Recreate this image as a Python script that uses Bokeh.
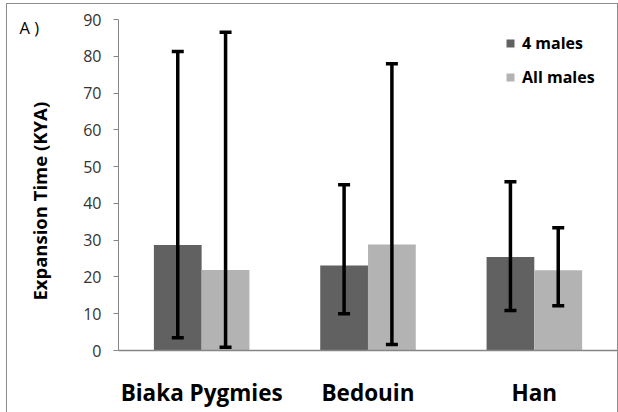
import math
from bokeh.plotting import figure
from bokeh.layouts import row
from bokeh.models import ColumnDataSource, Whisker, TeeHead, Legend, LegendItem, FixedTicker
from bokeh.core.properties import value
from bokeh.transform import dodge
from bokeh.embed import file_html
from bokeh.resources import INLINE

categories = ["Biaka Pygmies", "Bedouin", "Han"]
series = ["4 males", "All males"]
four_males = [28.7, 23.1, 25.4]
four_males_low = [3.5, 10.0, 10.9]
four_males_high = [81.3, 45.1, 45.9]
all_males = [21.9, 28.8, 21.8]
all_males_low = [0.9, 1.6, 12.2]
all_males_high = [86.5, 78.0, 33.4]
y_ticks = [0, 10, 20, 30, 40, 50, 60, 70, 80, 90]
panel_label = "A )"
y_title = "Expansion Time (KYA)"

FONT = "Open Sans"
DARK = "#616161"
LIGHT = "#b3b3b3"

src = ColumnDataSource(dict(cat=categories, a=four_males, alo=four_males_low, ahi=four_males_high,
                            b=all_males, blo=all_males_low, bhi=all_males_high))

# left strip holding the panel letter and the y title; its frame is aligned
# with the main plot frame (page pixels 19..350), so the y range uses page pixels
LW, LH = 59, 408
left = figure(width=LW, height=LH, x_range=(0, LW), y_range=(350.5, 19),
              output_backend="svg", toolbar_location=None,
              x_axis_location=None, y_axis_location=None,
              min_border=0, min_border_left=0, min_border_right=0,
              min_border_top=0, min_border_bottom=0)
left.outline_line_color = None
left.grid.visible = False
left.text(x=[12], y=[27], text=[panel_label], text_baseline="alphabetic",
          text_font=value(FONT), text_font_size="16.5px", text_color="#000000")
left.text(x=[32], y=[201], text=[y_title], angle=math.pi / 2,
          text_align="center", text_baseline="middle",
          text_font=value(FONT), text_font_style="bold", text_font_size="18.5px",
          text_color="#000000")

p = figure(x_range=categories, y_range=(0, 90), width=551, height=LH,
           output_backend="svg", toolbar_location=None,
           min_border_left=52, min_border_right=0, min_border_top=15, min_border_bottom=62)
p.outline_line_color = None
p.grid.visible = False
p.x_range.range_padding = 0

bw = 0.287
off = 0.1437
r1 = p.vbar(x=dodge("cat", -off, range=p.x_range), top="a", width=bw, source=src,
            fill_color=DARK, line_color=None)
r2 = p.vbar(x=dodge("cat", off, range=p.x_range), top="b", width=bw, source=src,
            fill_color=LIGHT, line_color=None)

for base, lo, hi in [(-off, "alo", "ahi"), (off, "blo", "bhi")]:
    w = Whisker(base=dodge("cat", base, range=p.x_range), lower=lo, upper=hi, source=src,
                line_color="black", line_width=3.5, level="overlay",
                upper_head=TeeHead(size=12, line_width=3.5, line_color="black"),
                lower_head=TeeHead(size=12, line_width=3.5, line_color="black"))
    p.add_layout(w)

legend = Legend(items=[LegendItem(label=series[0], renderers=[r1]),
                       LegendItem(label=series[1], renderers=[r2])],
                location=(387, 262), orientation="vertical")
legend.label_text_font = FONT
legend.label_text_font_style = "bold"
legend.label_text_font_size = "16px"
legend.label_text_color = "#000000"
legend.glyph_width = 10
legend.glyph_height = 10
legend.label_height = 21
legend.spacing = 12
legend.border_line_color = None
legend.background_fill_alpha = 0
legend.label_standoff = 7
p.add_layout(legend)

p.yaxis.ticker = FixedTicker(ticks=y_ticks)
p.yaxis.axis_line_color = "#868686"
p.yaxis.major_tick_line_color = "#868686"
p.yaxis.major_tick_out = 5
p.yaxis.major_tick_in = 0
p.yaxis.minor_tick_line_color = None
p.yaxis.major_label_text_font = FONT
p.yaxis.major_label_text_font_size = "16px"
p.yaxis.major_label_text_color = "#333333"
p.yaxis.major_label_standoff = 12

p.xaxis.axis_line_color = "#868686"
p.xaxis.axis_line_width = 1.5
p.xaxis.major_tick_line_color = None
p.xaxis.minor_tick_line_color = None
p.xaxis.major_label_text_font = FONT
p.xaxis.major_label_text_font_style = "bold"
p.xaxis.major_label_text_font_size = "22.5px"
p.xaxis.major_label_text_color = "#000000"
p.xaxis.major_label_standoff = 20

lay = row(left, p)
lay.margin = (3, 0, 0, 6)
lay.styles = {"border-top": "1px solid #8c8c8c", "border-left": "1px solid #8c8c8c",
              "border-right": "1px solid #8c8c8c"}

open("out.html", "w").write(file_html(lay, INLINE))
